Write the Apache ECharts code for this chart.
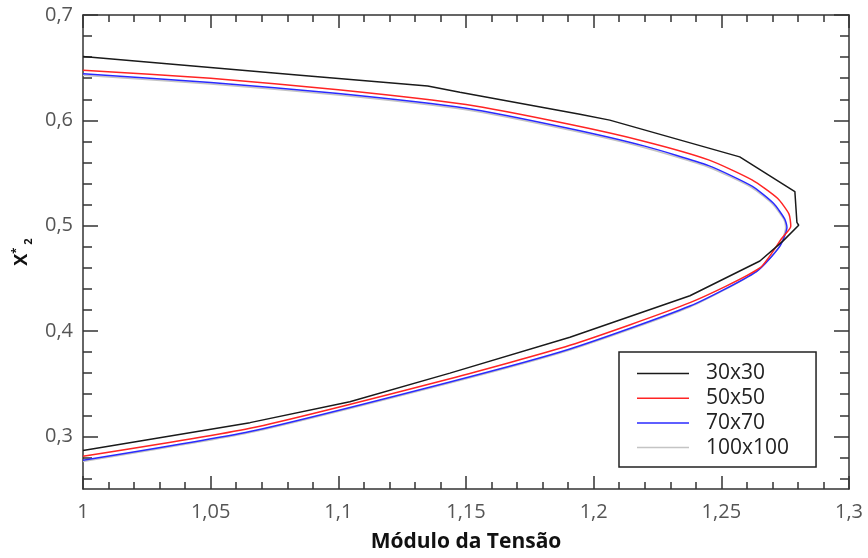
<!DOCTYPE html>
<html>
<head>
<meta charset="utf-8">
<script src="https://cdn.jsdelivr.net/npm/echarts@6/dist/echarts.min.js"></script>
<style>
html,body{margin:0;padding:0;background:#fff;}
#chart{width:868px;height:558px;}
</style>
</head>
<body>
<div id="chart"></div>
<script>
// ---- data ----
const seriesNames = ['30x30', '50x50', '70x70', '100x100'];

const curve30 = [
  [1.0, 0.6605], [1.085, 0.6428], [1.135, 0.6325], [1.1476, 0.6266], [1.1946, 0.6058],
  [1.2063, 0.6002], [1.2572, 0.5653], [1.2788, 0.5324], [1.2796, 0.5032], [1.2803, 0.5004],
  [1.2741, 0.4853], [1.2651, 0.4665], [1.2377, 0.4335], [1.1907, 0.394],
  [1.1437, 0.36], [1.1045, 0.3328], [1.0654, 0.313], [1.0, 0.2866]
];
const curve50 = [
  [1.0, 0.6476], [1.05, 0.640], [1.1, 0.629], [1.15, 0.615], [1.19, 0.5965],
  [1.22, 0.580], [1.245, 0.5625], [1.262, 0.5435], [1.272, 0.526], [1.2765, 0.511],
  [1.2772, 0.4995],
  [1.2737, 0.4881], [1.2651, 0.4599], [1.2377, 0.4269], [1.1907, 0.3864],
  [1.1437, 0.3547], [1.0654, 0.3076], [1.0, 0.281]
];
const curve70 = [
  [1.0, 0.6442], [1.05, 0.636], [1.1, 0.6255], [1.15, 0.6115], [1.19, 0.5925],
  [1.22, 0.5755], [1.245, 0.557], [1.262, 0.5375], [1.2705, 0.521], [1.2748, 0.5065],
  [1.2757, 0.4985],
  [1.2729, 0.4803], [1.2639, 0.4567], [1.2377, 0.4237], [1.1907, 0.3829],
  [1.1437, 0.3516], [1.0654, 0.3045], [1.0, 0.2772]
];
const curve100 = [
  [1.0, 0.6428], [1.05, 0.6345], [1.1, 0.624], [1.15, 0.610], [1.19, 0.591],
  [1.22, 0.574], [1.245, 0.5555], [1.262, 0.536], [1.270, 0.5205], [1.2745, 0.506],
  [1.2752, 0.4982],
  [1.2725, 0.4795], [1.2635, 0.456], [1.2377, 0.4228], [1.1907, 0.382],
  [1.1437, 0.3507], [1.0654, 0.3036], [1.0, 0.2762]
];

const yMajorTicks = [0.3, 0.4, 0.5, 0.6, 0.7];
const yMinorTicks = [0.26, 0.28, 0.32, 0.34, 0.36, 0.38, 0.42, 0.44, 0.46, 0.48,
                     0.52, 0.54, 0.56, 0.58, 0.62, 0.64, 0.66, 0.68];

// ---- chart ----
const FONT = 'Open Sans';
const AX = '#333';
const fmt = v => String(+(+v).toFixed(2)).replace('.', ',');

const chart = echarts.init(document.getElementById('chart'), null, {renderer: 'canvas'});

const xBase = (pos, labels) => ({
  type: 'value', position: pos, min: 1, max: 1.3, interval: 0.05,
  axisLine: {show: true, onZero: false, lineStyle: {color: AX, width: 1.5}},
  axisTick: {show: true, inside: true, length: 13, lineStyle: {color: AX, width: 1.5}},
  minorTick: {show: true, splitNumber: 5, length: 7, lineStyle: {color: AX, width: 1.5}},
  splitLine: {show: false}, minorSplitLine: {show: false},
  axisLabel: labels ? {show: true, margin: 13, color: '#555', fontSize: 20, fontFamily: FONT, formatter: fmt} : {show: false}
});

const yBase = (pos, ticks, len, line, labels) => ({
  type: 'value', position: pos, min: 0.25, max: 0.7,
  axisLine: {show: line, onZero: false, lineStyle: {color: AX, width: 1.5}},
  axisTick: {show: true, inside: true, length: len, customValues: ticks, lineStyle: {color: AX, width: 1.5}},
  splitLine: {show: false},
  axisLabel: labels ? {show: true, margin: 10, color: '#555', fontSize: 20, fontFamily: FONT,
                       customValues: yMajorTicks, formatter: fmt} : {show: false}
});

const xMain = xBase('bottom', true);
xMain.name = 'Módulo da Tensão';
xMain.nameLocation = 'middle';
xMain.nameGap = 43;
xMain.nameTextStyle = {fontSize: 21, fontWeight: 'bold', color: '#111', fontFamily: FONT};

const yMain = yBase('left', yMajorTicks, 15, true, true);
yMain.name = '{b|X}{sup|*}{sub|2}';
yMain.nameLocation = 'middle';
yMain.nameRotate = 90;
yMain.nameGap = 48;
yMain.nameTextStyle = {
  fontFamily: FONT, color: '#111',
  rich: {
    b: {fontSize: 18, fontWeight: 'bold', color: '#111', fontFamily: FONT, lineHeight: 24},
    sup: {fontSize: 11, fontWeight: 'bold', color: '#111', fontFamily: FONT, verticalAlign: 'top', lineHeight: 24},
    sub: {fontSize: 11, fontWeight: 'bold', color: '#111', fontFamily: FONT, verticalAlign: 'bottom', lineHeight: 24, padding: [0, 0, 0, 3]}
  }
};

const mk = (name, data, color, z, smooth) => ({
  name, type: 'line', data, xAxisIndex: 0, yAxisIndex: 0,
  symbol: 'none', showSymbol: false, smooth, z,
  lineStyle: {color, width: 1.5}, itemStyle: {color},
  emphasis: {disabled: true}, animation: false
});

chart.setOption({
  animation: false,
  backgroundColor: '#fff',
  grid: {left: 83, right: 19, top: 15, bottom: 66, containLabel: false},
  xAxis: [xMain, xBase('top', false)],
  yAxis: [
    yMain,
    yBase('left', yMinorTicks, 9, false, false),
    yBase('right', yMajorTicks, 15, true, false),
    yBase('right', yMinorTicks, 9, false, false)
  ],
  legend: {
    orient: 'vertical', left: 619, top: 352,
    data: seriesNames,
    icon: 'rect',
    backgroundColor: '#fff', borderColor: '#222', borderWidth: 1.5, borderRadius: 0,
    padding: [11, 27, 9, 18],
    itemWidth: 52, itemHeight: 1.5, itemGap: 3.7,
    selectedMode: false,
    textStyle: {fontSize: 21, lineHeight: 20, color: '#222', fontFamily: FONT, padding: [0, 0, 0, 12]}
  },
  series: [
    mk(seriesNames[0], curve30, '#1a1a1a', 5, false),
    mk(seriesNames[1], curve50, '#ff2424', 4, 0.2),
    mk(seriesNames[2], curve70, '#2a2aff', 3, 0.2),
    mk(seriesNames[3], curve100, '#c4c4c4', 2, 0.2)
  ]
});
</script>
</body>
</html>
